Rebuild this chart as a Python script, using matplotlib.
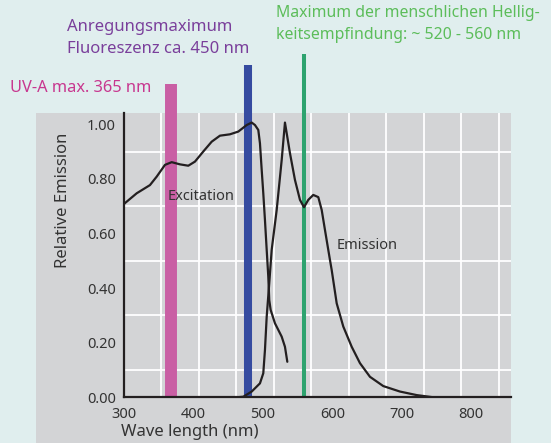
import numpy as np
import matplotlib.pyplot as plt
from matplotlib.patches import Rectangle
from matplotlib.ticker import FixedLocator, MultipleLocator

plt.rcParams['font.family'] = ['Noto Sans', 'DejaVu Sans']

# excitation spectrum (wavelength nm, relative value)
exc_nm = [300, 318.3, 337.4, 347.1, 359.0, 368.7, 380.6, 392.6, 402.2, 414.2,
          426.3, 438.2, 452.6, 464.6, 476.7, 483.9, 488.6, 493.4, 495.8, 498.3,
          500.6, 503.0, 505.5, 507.8, 509.2, 511.2, 517.4, 527.1, 531.8, 535.2]
exc_val = [0.708, 0.747, 0.777, 0.808, 0.851, 0.861, 0.853, 0.848, 0.863, 0.900,
           0.936, 0.958, 0.963, 0.973, 0.997, 1.006, 0.997, 0.979, 0.930, 0.833,
           0.747, 0.649, 0.540, 0.442, 0.356, 0.320, 0.271, 0.222, 0.185, 0.130]

# emission spectrum
em_nm = [462.3, 471.8, 483.9, 495.8, 500.6, 503.0, 505.5, 509.2, 512.7, 519.9,
         527.1, 531.8, 539.0, 546.2, 553.4, 559.2, 565.4, 572.6, 579.8, 584.7,
         589.4, 596.6, 599.1, 606.3, 615.8, 627.9, 639.8, 654.2, 673.4, 697.4,
         721.5, 745.4, 764.7]
em_val = [0.0, 0.002, 0.021, 0.051, 0.088, 0.173, 0.295, 0.418, 0.540, 0.686,
          0.869, 1.006, 0.894, 0.796, 0.723, 0.696, 0.723, 0.741, 0.733, 0.686,
          0.613, 0.503, 0.466, 0.344, 0.259, 0.185, 0.125, 0.075, 0.041, 0.021,
          0.008, 0.0, 0.0]

# marker bars: position (nm) and top
bar_nm = [367.7, 478.6, 558.8]
bar_top = [1.148, 1.217, 1.257]
bar_colors = ['#c95fa4', '#354ba0', '#2ea36f']
bar_widths = [8.6, 5.8, 2.9]

xticks = [300, 400, 500, 600, 700, 800]
yticks = [0.0, 0.2, 0.4, 0.6, 0.8, 1.0]

fig = plt.figure(figsize=(5.51, 4.43), dpi=100, facecolor='#e0eeee')
fig.patches.append(Rectangle((0.065, 0), 0.8633, 0.7449, transform=fig.transFigure,
                             facecolor='#d3d4d6', edgecolor='none', zorder=-10))

ax = fig.add_axes([0.2250, 0.1032, 0.7033, 0.6417])
ax.set_facecolor('none')
ax.set_xlim(300, 858)
ax.set_ylim(0, 1.041)

ax.xaxis.set_minor_locator(FixedLocator(np.arange(300, 858, 54)))
ax.yaxis.set_minor_locator(MultipleLocator(0.1))
ax.set_xticks(xticks)
ax.set_yticks(yticks)
ax.set_yticklabels(['%.2f' % v for v in yticks])
ax.grid(which='minor', color='white', linewidth=1.3)
ax.grid(which='major', visible=False)
ax.tick_params(which='both', length=0, labelsize=10.5, colors='#333333', pad=6)
ax.tick_params(axis='x', pad=7)

for s in ['top', 'right']:
    ax.spines[s].set_visible(False)
for s in ['left', 'bottom']:
    ax.spines[s].set_linewidth(1.6)
    ax.spines[s].set_color('#231f20')

for x, top, c, w in zip(bar_nm, bar_top, bar_colors, bar_widths):
    ax.vlines(x, 0, top, colors=c, linewidth=w, clip_on=False, capstyle='butt', zorder=2)

ax.plot(exc_nm, exc_val, color='#231f20', linewidth=1.6, zorder=3,
        solid_joinstyle='round', solid_capstyle='round')
ax.plot(em_nm, em_val, color='#231f20', linewidth=1.6, zorder=3,
        solid_joinstyle='round', solid_capstyle='round')

ax.text(363.4, 0.737, 'Excitation', fontsize=10.5, color='#333333', va='center')
ax.text(606.7, 0.554, 'Emission', fontsize=10.5, color='#333333', va='center')

fig.text(0.114, 0.548, 'Relative Emission', rotation=90, fontsize=12,
         color='#333333', ha='center', va='center')
fig.text(0.219, 0.025, 'Wave length (nm)', fontsize=12, color='#333333', va='center')

fig.text(0.019, 0.8014, 'UV-A max. 365 nm', fontsize=11.8, color='#c8378f', va='center')
fig.text(0.121, 0.9146, 'Anregungsmaximum\nFluoreszenz ca. 450 nm', fontsize=12,
         color='#7a3f9b', va='center', linespacing=1.5)
fig.text(0.5005, 0.9455, 'Maximum der menschlichen Hellig-\nkeitsempfindung: ~ 520 - 560 nm',
         fontsize=11.4, color='#5cbd5a', va='center', linespacing=1.55)

fig.savefig('out.png', dpi=100, facecolor=fig.get_facecolor())
